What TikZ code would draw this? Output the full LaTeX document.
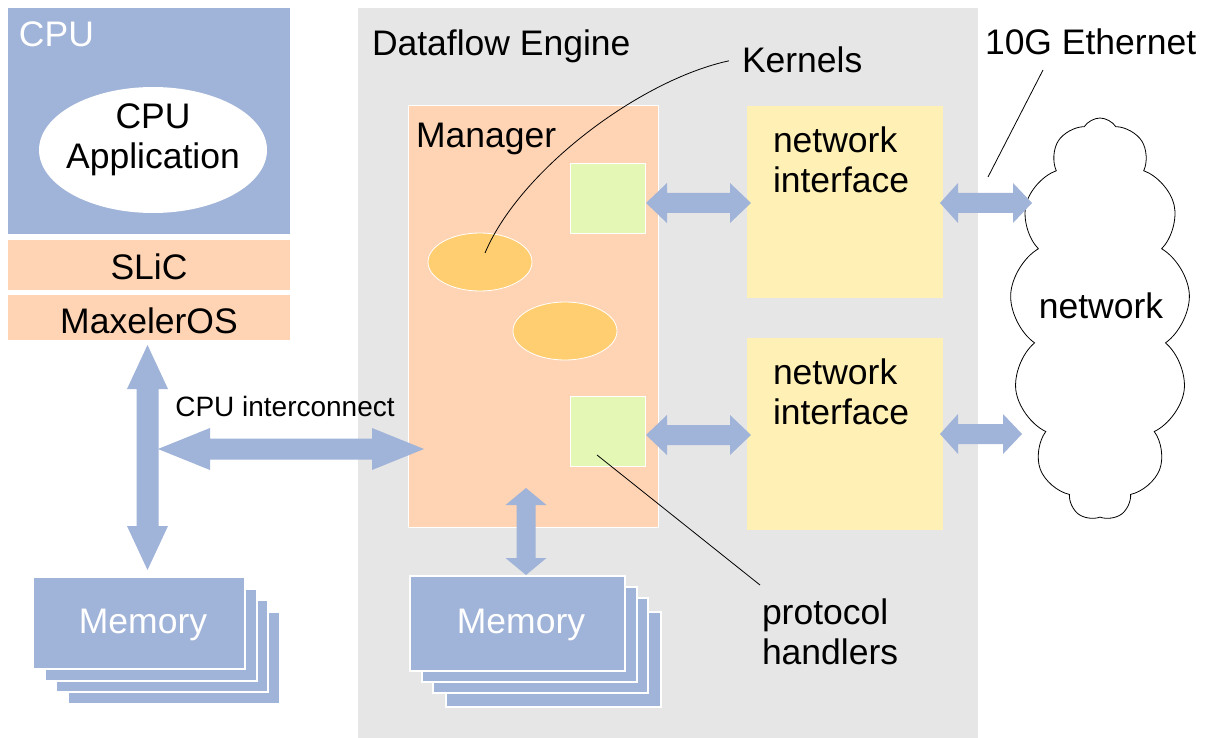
\documentclass[tikz,border=0pt]{standalone}
\usepackage{fontspec}
\setmainfont{Liberation Sans}
\usetikzlibrary{shapes.geometric,shapes.symbols,calc}
\definecolor{cpublue}{RGB}{160,179,216}
\definecolor{peach}{RGB}{255,212,180}
\definecolor{dfegrey}{RGB}{230,230,230}
\definecolor{kgreen}{RGB}{228,247,180}
\definecolor{korange}{RGB}{255,206,112}
\definecolor{niyellow}{RGB}{255,241,181}
\newcommand{\hdarrow}[6]{%
  \fill[cpublue] let \p1=(#1), \p2=(#2) in
    (\x1,\y1) -- (\x1+#5,\y1+#4) -- (\x1+#5,\y1+#3) -- (\x2-#6,\y2+#3) -- (\x2-#6,\y2+#4)
    -- (\x2,\y2) -- (\x2-#6,\y2-#4) -- (\x2-#6,\y2-#3) -- (\x1+#5,\y1-#3) -- (\x1+#5,\y1-#4) -- cycle;}
\newcommand{\vdarrow}[5]{%
  \fill[cpublue] let \p1=(#1), \p2=(#2) in
    (\x1,\y1) -- (\x1+#4,\y1-#5) -- (\x1+#3,\y1-#5) -- (\x2+#3,\y2+#5) -- (\x2+#4,\y2+#5)
    -- (\x2,\y2) -- (\x2-#4,\y2+#5) -- (\x2-#3,\y2+#5) -- (\x1-#3,\y1-#5) -- (\x1-#4,\y1-#5) -- cycle;}
\begin{document}
\begin{tikzpicture}[x=1pt,y=-1pt,
  every node/.style={inner sep=0pt, outer sep=0pt, font=\fontsize{35.5}{40}\selectfont},
  rbox/.style={rectangle, draw=none},
  membox/.style={rectangle, fill=cpublue, draw=white, line width=2.5pt, minimum width=#1},
  txt/.style={anchor=base west},
  lbl/.style={align=left}]
\useasboundingbox (0,0) rectangle (1210,738);
\fill[white] (0,0) rectangle (1210,738);
% Dataflow engine
\node[rbox, fill=dfegrey, minimum width=620pt, minimum height=732pt] (dfe) at (668,374) {};
\node[txt] (dfetxt) at (372,55.5) {Dataflow Engine};
% CPU side
\node[rbox, fill=cpublue, minimum width=282pt, minimum height=226pt] (cpu) at (149,121) {};
\node[txt, text=white] (cputxt) at (19,47) {CPU};
\node[ellipse, fill=white, minimum width=228pt, minimum height=126pt] (cpuapp) at (153,150) {};
\node[align=center] (cpuapptxt) at (153,140) {CPU\\Application};
\node[rbox, fill=peach, minimum width=282pt, minimum height=50pt] (slic) at (149,265) {};
\node[anchor=base] (slictxt) at (149,279) {SLiC};
\node[rbox, fill=peach, minimum width=282pt, minimum height=45pt] (maxos) at (149,317.5) {};
\node[anchor=base] (maxostxt) at (149,333) {MaxelerOS};
% CPU memory stack
\foreach \i/\d in {3/35,2/23,1/12}{
  \node[membox=212pt, minimum height=92pt] (memL\i) at (139+\d,623+\d) {};}
\node[membox=212pt, minimum height=92pt, text=white] (memL) at (139,623) {};
\node[anchor=base, text=white] (memLtxt) at (143,633) {Memory};
% Manager
\node[rbox, fill=peach, draw=white, line width=1pt, minimum width=250pt, minimum height=421pt] (mgr) at (533,316.5) {};
\node[txt] (mgrtxt) at (416,148) {Manager};
\node[rbox, fill=kgreen, draw=white, line width=1pt, minimum width=75pt, minimum height=70pt] (g1) at (607.5,199) {};
\node[rbox, fill=kgreen, draw=white, line width=1pt, minimum width=75pt, minimum height=70pt] (g2) at (607.5,431) {};
\node[ellipse, fill=korange, draw=white, line width=0.8pt, minimum width=104pt, minimum height=58pt] (e1) at (480,262) {};
\node[ellipse, fill=korange, draw=white, line width=0.8pt, minimum width=104pt, minimum height=58pt] (e2) at (565,331) {};
% manager memory stack
\foreach \i/\dx/\dy in {3/36/36,2/23/22,1/12/11}{
  \node[membox=215pt, minimum height=95pt] (memR\i) at (517.5+\dx,623.5+\dy) {};}
\node[membox=215pt, minimum height=95pt] (memR) at (517.5,623.5) {};
\node[anchor=base, text=white] (memRtxt) at (521,633) {Memory};
% network interfaces
\node[rbox, fill=niyellow, minimum width=196pt, minimum height=192pt] (ni1) at (845,202) {};
\node[rbox, fill=niyellow, minimum width=196pt, minimum height=192pt] (ni2) at (845,434) {};
\node[lbl, anchor=west] (ni1txt) at (773,160.25) {network\\interface};
\node[lbl, anchor=west] (ni2txt) at (773,392.25) {network\\interface};
% cloud
\node[cloud, draw=black, fill=white, line width=0.8pt, cloud puffs=13, cloud puff arc=115, aspect=0.47,
      minimum width=180pt, minimum height=402pt] (net) at (1100,319) {};
\node[anchor=base] (nettxt) at (1101,318) {network};
% labels
\node[txt] (kern) at (742,72.5) {Kernels};
\node[txt] (eth) at (985,55) {10G Ethernet};
\node[lbl, anchor=west] (proto) at (762,632) {protocol\\handlers};
\node[anchor=base, font=\fontsize{28}{32}\selectfont] (ictxt) at (285,416) {CPU interconnect};
% arrow end points
\coordinate (cpuv1) at (147.5,345);
\coordinate (cpuv2) at (147.5,570);
\coordinate (ic1) at (158,449);
\coordinate (ic2) at (424,449);
\coordinate (mm1) at (526,488);
\coordinate (mm2) at (526,575);
\coordinate (gn1a) at (646,203);
\coordinate (gn1b) at (751,203);
\coordinate (nc1a) at (940,203);
\coordinate (nc1b) at (1032,203);
\coordinate (gn2a) at (646,435);
\coordinate (gn2b) at (751,435);
\coordinate (nc2a) at (940,434);
\coordinate (nc2b) at (1022,434);
% fat arrows
\vdarrow{cpuv1}{cpuv2}{11pt}{20.5pt}{44pt}
\hdarrow{ic1}{ic2}{10.5pt}{21pt}{52pt}{52pt}
\vdarrow{mm1}{mm2}{9.5pt}{20.5pt}{17pt}
\hdarrow{gn1a}{gn1b}{10pt}{20pt}{21pt}{21pt}
\hdarrow{nc1a}{nc1b}{10pt}{20pt}{18pt}{19pt}
\hdarrow{gn2a}{gn2b}{10pt}{20pt}{21pt}{21pt}
\hdarrow{nc2a}{nc2b}{10pt}{20pt}{18pt}{19pt}
% callout lines
\coordinate (kend) at (485,253);
\coordinate (pstart) at (597,455);
\coordinate (pend) at (760,585);
\coordinate (eth1) at (1043,70);
\coordinate (eth2) at (988,177);
\draw[line width=0.8pt] ([xshift=-13pt,yshift=-1pt]kern.west) .. controls (640,80) and (520,170) .. (kend);
\draw[line width=0.8pt] (pstart) -- (pend);
\draw[line width=0.8pt] (eth1) -- (eth2);
\end{tikzpicture}
\end{document}
